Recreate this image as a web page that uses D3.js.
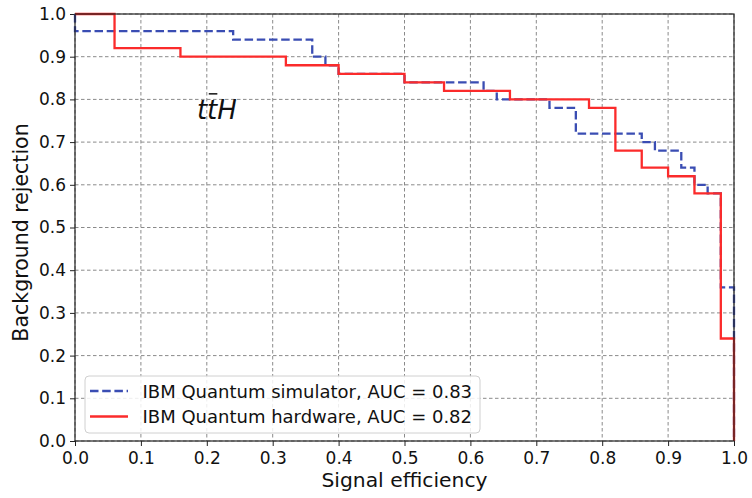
<!DOCTYPE html>
<html>
<head>
<meta charset="utf-8">
<script src="https://cdn.jsdelivr.net/npm/d3@7"></script>
<style>
  body { margin: 0; background: #fff; }
  text { font-family: "DejaVu Sans", sans-serif; }
</style>
</head>
<body>
<div id="container"></div>
<script>
//ROC step points: value holds from this x until the next x
var simX = [0, 0, 0.24, 0.36, 0.38, 0.40, 0.50, 0.62, 0.64, 0.72, 0.76, 0.86, 0.88, 0.92, 0.94, 0.96, 0.98, 1.0];
var simY = [1.0, 0.96, 0.94, 0.90, 0.88, 0.86, 0.84, 0.82, 0.80, 0.78, 0.72, 0.70, 0.68, 0.64, 0.60, 0.58, 0.36, 0.0];

var hwX = [0, 0.06, 0.16, 0.32, 0.40, 0.50, 0.56, 0.66, 0.78, 0.82, 0.86, 0.90, 0.94, 0.98, 1.0];
var hwY = [1.0, 0.92, 0.90, 0.88, 0.86, 0.84, 0.82, 0.80, 0.78, 0.68, 0.64, 0.62, 0.58, 0.24, 0.0];

var ticks = [0, 0.1, 0.2, 0.3, 0.4, 0.5, 0.6, 0.7, 0.8, 0.9, 1.0];
var seriesNames = ["IBM Quantum simulator, AUC = 0.83", "IBM Quantum hardware, AUC = 0.82"];

//SVG sizes and margins
var margin = { top: 14, right: 18, bottom: 57, left: 75 },
    width = 752 - margin.left - margin.right,
    height = 498 - margin.top - margin.bottom;

var svg = d3.select("#container").append("svg")
    .attr("width", 752)
    .attr("height", 498)
    .append("g")
    .attr("transform", "translate(" + margin.left + "," + margin.top + ")");

var x = d3.scaleLinear().domain([0, 1]).range([0, width]);
var y = d3.scaleLinear().domain([0, 1]).range([height, 0]);

//Grid
svg.append("g").selectAll("line.gx")
    .data(ticks).enter().append("line")
    .attr("x1", d => x(d)).attr("x2", d => x(d))
    .attr("y1", 0).attr("y2", height)
    .attr("stroke", "#8a8a8a").attr("stroke-width", 1)
    .attr("stroke-dasharray", "3.5,2.5");
svg.append("g").selectAll("line.gy")
    .data(ticks).enter().append("line")
    .attr("y1", d => y(d)).attr("y2", d => y(d))
    .attr("x1", 0).attr("x2", width)
    .attr("stroke", "#8a8a8a").attr("stroke-width", 1)
    .attr("stroke-dasharray", "3.5,2.5");

//Axes
var xAxis = svg.append("g")
    .attr("transform", "translate(0," + height + ")")
    .call(d3.axisBottom(x).tickValues(ticks).tickFormat(d3.format(".1f")).tickSize(5).tickPadding(6));
var yAxis = svg.append("g")
    .call(d3.axisLeft(y).tickValues(ticks).tickFormat(d3.format(".1f")).tickSize(5).tickPadding(4));
[xAxis, yAxis].forEach(function (a) {
    a.select(".domain").remove();
    a.selectAll("text").attr("font-size", 17).attr("fill", "#111")
        .style("font-family", "DejaVu Sans");
    a.selectAll("line").attr("stroke", "#222");
});

//Curves
var line = d3.line().curve(d3.curveStepAfter)
    .x(d => x(d[0])).y(d => y(d[1]));

svg.append("path")
    .datum(d3.zip(simX, simY))
    .attr("d", line)
    .attr("fill", "none")
    .attr("stroke", "#3a4db3")
    .attr("stroke-width", 2.3)
    .attr("stroke-dasharray", "8.5,3.7");

svg.append("path")
    .datum(d3.zip(hwX, hwY))
    .attr("d", line)
    .attr("fill", "none")
    .attr("stroke", "#fb2b2b")
    .attr("stroke-width", 2.3);

//Frame
svg.append("rect")
    .attr("width", width).attr("height", height)
    .attr("fill", "none").attr("stroke", "#222").attr("stroke-width", 1.2);

//ttH label
svg.append("text")
    .attr("x", x(0.185)).attr("y", y(0.755))
    .attr("font-size", 26).attr("font-style", "italic")
    .attr("fill", "#111")
    .text("ttH");
svg.append("line")
    .attr("x1", x(0.203)).attr("x2", x(0.216))
    .attr("y1", y(0.813)).attr("y2", y(0.813))
    .attr("stroke", "#111").attr("stroke-width", 1.5);

//Axis labels
svg.append("text")
    .attr("x", width / 2).attr("y", height + 46)
    .attr("text-anchor", "middle").attr("font-size", 20.3)
    .attr("fill", "#111")
    .text("Signal efficiency");
svg.append("text")
    .attr("transform", "translate(-47," + (height / 2 + 5) + ") rotate(-90)")
    .attr("text-anchor", "middle").attr("font-size", 20.5)
    .attr("fill", "#111")
    .text("Background rejection");

//Legend
var legend = svg.append("g").attr("transform", "translate(10,362)");
legend.append("rect")
    .attr("width", 395).attr("height", 57).attr("rx", 4)
    .attr("fill", "#fff").attr("fill-opacity", 0.85)
    .attr("stroke", "#d0d0d0");
var items = legend.selectAll("g.item")
    .data(seriesNames).enter().append("g")
    .attr("transform", (d, i) => "translate(0," + (15 + i * 25.5) + ")");
items.append("line")
    .attr("x1", 5).attr("x2", 43).attr("y1", 0).attr("y2", 0)
    .attr("stroke", (d, i) => i === 0 ? "#3a4db3" : "#fb2b2b")
    .attr("stroke-width", 2.3)
    .attr("stroke-dasharray", (d, i) => i === 0 ? "8.5,3.7" : null);
items.append("text")
    .attr("x", 57.5).attr("y", 6.6)
    .attr("font-size", 18)
    .attr("fill", "#111")
    .text(d => d);
</script>
</body>
</html>
